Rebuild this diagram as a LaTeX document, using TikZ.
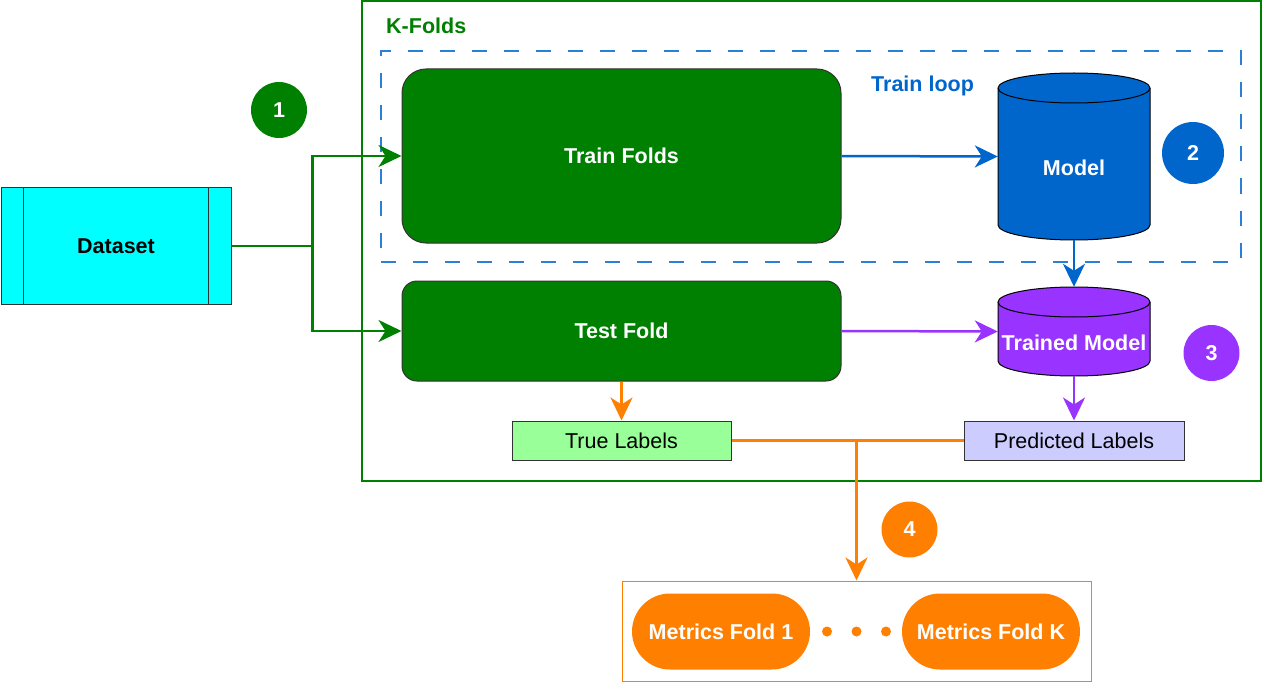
\documentclass[tikz,border=0pt]{standalone}
\usepackage{fontspec}
\setmainfont{Liberation Sans}
\usetikzlibrary{arrows.meta}
\definecolor{cgreen}{HTML}{008000}
\definecolor{ccyan}{HTML}{00FFFF}
\definecolor{cblue}{HTML}{0066CC}
\definecolor{cdash}{HTML}{2B7FD6}
\definecolor{cpurple}{HTML}{9933FF}
\definecolor{corange}{HTML}{FF8000}
\definecolor{clgreen}{HTML}{99FF99}
\definecolor{clav}{HTML}{CCCCFF}
\definecolor{cborder}{HTML}{333333}
\tikzset{
  x=1pt, y=1pt,
  txt/.style={font=\fontsize{21.5pt}{25pt}\selectfont},
  btxt/.style={font=\fontsize{21.5pt}{25pt}\selectfont\bfseries},
  box/.style={draw=cborder, line width=1pt, inner sep=0pt},
  ghost/.style={draw=none, inner sep=0pt},
  tip/.style={-{Stealth[length=23pt,width=22pt,inset=7pt]}},
  conn/.style={line width=2.5pt},
  badge/.style={circle, inner sep=0pt, minimum size=#1, text=white, btxt},
}
\begin{document}
\begin{tikzpicture}
\useasboundingbox (0,0) rectangle (1262,-682);

% outer K-Folds frame
\node[ghost, draw=cgreen, line width=2pt, minimum width=899pt, minimum height=479.5pt] (kf) at (811,-240.75) {};
\node[btxt, text=cgreen, anchor=base west, inner sep=0pt] (kflabel) at (386,-33.3) {K-Folds};

% train loop dashed frame
\node[ghost, draw=cdash, line width=2pt, dash pattern=on 15pt off 17pt, minimum width=860pt, minimum height=210pt] (tl) at (811,-156.5) {};
\node[btxt, text=cblue, anchor=base west, inner sep=0pt] (tllabel) at (871,-91.7) {Train loop};

% dataset
\node[box, fill=ccyan, minimum width=230pt, minimum height=116pt, btxt] (ds) at (116,-246) {Dataset};
\draw[cborder, line width=1.5pt] ([xshift=23pt]ds.north west) -- ([xshift=23pt]ds.south west);
\draw[cborder, line width=1.5pt] ([xshift=-23pt]ds.north east) -- ([xshift=-23pt]ds.south east);

% train / test folds
\node[box, fill=cgreen, rounded corners=24pt, minimum width=439pt, minimum height=174pt, btxt, text=white] (tf) at (621.5,-156) {Train Folds};
\node[box, fill=cgreen, rounded corners=15pt, minimum width=439pt, minimum height=100pt, btxt, text=white] (te) at (621.5,-331) {Test Fold};

% Model cylinder
\draw[fill=cblue, draw=black, line width=1pt] (998,-88) -- (998,-225)
  arc[start angle=180, end angle=360, x radius=76pt, y radius=15pt] -- (1150,-88)
  arc[start angle=0, end angle=180, x radius=76pt, y radius=15pt] -- cycle;
\draw[black, line width=1pt] (998,-88) arc[start angle=180, end angle=360, x radius=76pt, y radius=15pt];
\node[ghost, minimum width=152pt, minimum height=167pt] (model) at (1074,-156.5) {};
\node[btxt, text=white] (modeltxt) at (1074,-168) {Model};

% Trained model cylinder
\draw[fill=cpurple, draw=black, line width=1pt] (998,-302) -- (998,-361)
  arc[start angle=180, end angle=360, x radius=76pt, y radius=15pt] -- (1150,-302)
  arc[start angle=0, end angle=180, x radius=76pt, y radius=15pt] -- cycle;
\draw[black, line width=1pt] (998,-302) arc[start angle=180, end angle=360, x radius=76pt, y radius=15pt];
\node[ghost, minimum width=152pt, minimum height=89pt] (tm) at (1074,-331.5) {};
\node[btxt, text=white] (tmtxt) at (1074,-343) {Trained Model};

% labels boxes
\node[box, fill=clgreen, minimum width=219pt, minimum height=39pt, txt] (tlab) at (621.5,-440.5) {True Labels};
\node[box, fill=clav, minimum width=220pt, minimum height=39pt, txt] (plab) at (1074,-440.5) {Predicted Labels};

% metrics
\node[ghost, draw=corange, line width=1pt, minimum width=469pt, minimum height=100pt] (mbox) at (856.5,-631) {};
\node[ghost, fill=corange, rounded corners=38pt, minimum width=178pt, minimum height=76pt, btxt, text=white] (m1) at (721,-631.5) {Metrics Fold 1};
\node[ghost, fill=corange, rounded corners=38pt, minimum width=178pt, minimum height=76pt, btxt, text=white] (mk) at (991,-631.5) {Metrics Fold K};
\fill[corange] (827,-631.5) circle (5pt) (856.5,-631.5) circle (5pt) (886,-631.5) circle (5pt);

% badges
\node[badge=56pt, fill=cgreen] (b1) at (279,-110) {1};
\node[badge=62pt, fill=cblue] (b2) at (1193,-153) {2};
\node[badge=56pt, fill=cpurple] (b3) at (1211.5,-353) {3};
\node[badge=56pt, fill=corange] (b4) at (909.5,-529.5) {4};

% connectors
\draw[conn, cgreen, tip] (ds.east) -- ++(81,0) |- (tf.west);
\draw[conn, cgreen, tip] (ds.east) -- ++(81,0) |- (te.west);
\draw[conn, cblue, tip] (tf.east) -- (model.west);
\draw[conn, cblue, tip] (model.south) -- (tm.north);
\draw[conn, cpurple, tip] (te.east) -- (tm.west);
\draw[conn, cpurple, tip] (tm.south) -- (plab.north);
\draw[conn, corange, tip] (te.south) -- (tlab.north);
\coordinate (join) at (856.5,-440.5);
\draw[conn, corange] (tlab.east) -- (join) -- (plab.west);
\draw[conn, corange, tip] (join) -- (mbox.north);
\end{tikzpicture}
\end{document}
